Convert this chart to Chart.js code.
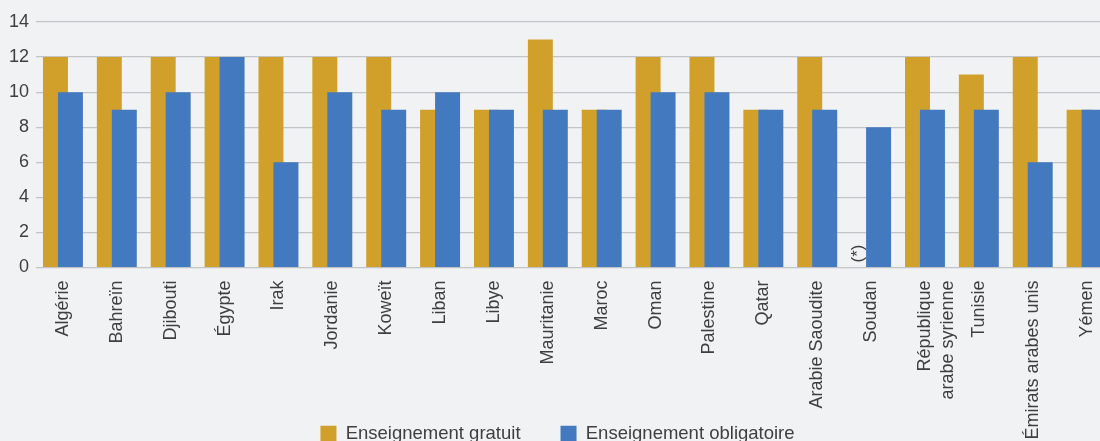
<!DOCTYPE html>
<html lang="fr">
<head>
<meta charset="UTF-8">
<title>Enseignement gratuit et obligatoire</title>
<script src="https://cdn.jsdelivr.net/npm/chart.js@4.4.0/dist/chart.umd.min.js"></script>
<style>
    html, body {
        margin: 0;
        padding: 0;
        background: #f1f2f4;
        overflow: hidden;
    }
    .wrap {
        width: 1115px;
        height: 453px;
        position: relative;
    }
</style>
</head>
<body>
<div class="wrap"><canvas id="chart"></canvas></div>
<script>
const pays = ['Algérie', 'Bahreïn', 'Djibouti', 'Égypte', 'Irak', 'Jordanie', 'Koweït', 'Liban', 'Libye',
    'Mauritanie', 'Maroc', 'Oman', 'Palestine', 'Qatar', 'Arabie Saoudite', 'Soudan',
    ['République', 'arabe syrienne'], 'Tunisie', 'Émirats arabes unis', 'Yémen'];
const gratuit = [12, 12, 12, 12, 12, 12, 12, 9, 9, 13, 9, 12, 12, 9, 12, null, 12, 11, 12, 9];
const obligatoire = [10, 9, 10, 12, 6, 10, 9, 10, 9, 9, 9, 10, 10, 9, 9, 8, 9, 9, 6, 9];
const yTicks = [0, 2, 4, 6, 8, 10, 12, 14];
const noteIndex = 15;
const noteText = '(*)';

const textColor = '#3f3f3f';
const font = 'Liberation Sans, Arial, Helvetica, sans-serif';

// bars on the right must sit above the left ones, Chart.js does the opposite
const blueOnTop = {
    id: 'blueOnTop',
    beforeDatasetDraw(chart, args) {
        if (args.index === 1) return false;
    },
    afterDatasetsDraw(chart) {
        chart.getDatasetMeta(1).controller.draw();
        // note for Soudan, written where the missing bar would be
        const el = chart.getDatasetMeta(0).data[noteIndex];
        const ctx = chart.ctx;
        ctx.save();
        ctx.translate(el.x - 1, chart.scales.y.getPixelForValue(0) - 5);
        ctx.rotate(-Math.PI / 2);
        ctx.font = '17px ' + font;
        ctx.fillStyle = textColor;
        ctx.textAlign = 'left';
        ctx.textBaseline = 'alphabetic';
        ctx.fillText(noteText, 0, 0);
        ctx.restore();
    }
};

new Chart(document.getElementById('chart'), {
    type: 'bar',
    data: {
        labels: pays,
        datasets: [
            {
                label: 'Enseignement gratuit',
                data: gratuit,
                backgroundColor: '#d1a02a'
            },
            {
                label: 'Enseignement obligatoire',
                data: obligatoire,
                backgroundColor: '#4279bf'
            }
        ]
    },
    options: {
        responsive: true,
        maintainAspectRatio: false,
        animation: false,
        categoryPercentage: 0.556,
        barPercentage: 1.667,
        layout: { padding: { top: 22, left: 0, right: 0, bottom: 0 } },
        scales: {
            x: {
                grid: { display: false },
                border: { display: false },
                ticks: {
                    autoSkip: false,
                    minRotation: 90,
                    maxRotation: 90,
                    padding: 5,
                    color: textColor,
                    font: { size: 18, family: font, lineHeight: 1.3 }
                },
                afterFit(scale) {
                    // long labels run down past the axis box, next to the legend
                    scale.height = 117;
                    scale._computeLabelArea = () => undefined;
                }
            },
            y: {
                min: 0,
                max: 14,
                afterBuildTicks(scale) { scale.ticks = yTicks.map(v => ({ value: v })); },
                grid: { color: '#c3c4c6', lineWidth: 1.2, drawTicks: false },
                border: { display: false },
                ticks: {
                    padding: 7,
                    color: textColor,
                    font: { size: 18, family: font }
                },
                afterFit(scale) { scale.width = 36; }
            }
        },
        plugins: {
            legend: {
                position: 'bottom',
                labels: {
                    boxWidth: 16,
                    boxHeight: 16,
                    padding: 40,
                    color: textColor,
                    font: { size: 18.5, family: font }
                }
            },
            tooltip: { enabled: false }
        }
    },
    plugins: [blueOnTop]
});
</script>
</body>
</html>
